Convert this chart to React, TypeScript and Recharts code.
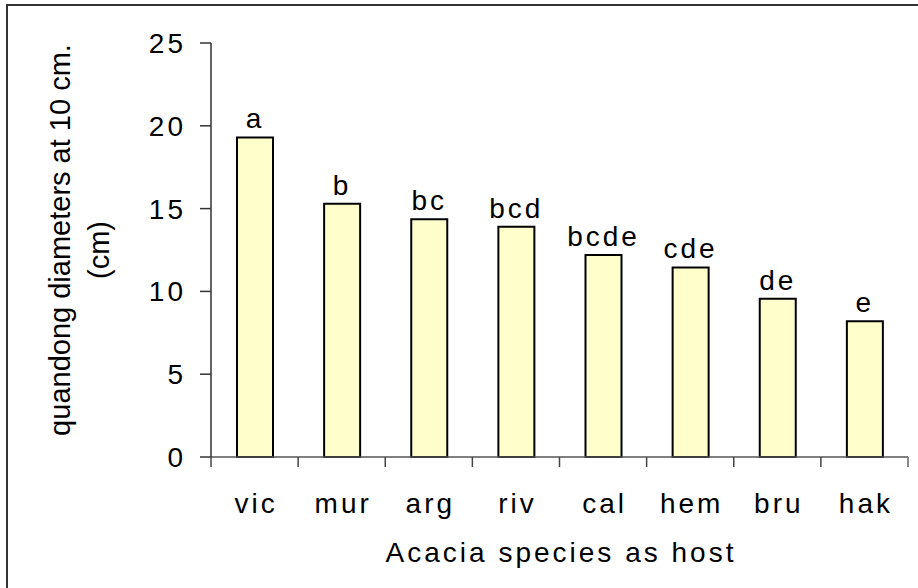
import React from 'react';
import { BarChart, Bar, XAxis, YAxis, LabelList } from 'recharts';

const species = ['vic', 'mur', 'arg', 'riv', 'cal', 'hem', 'bru', 'hak'];
const diameters = [19.3, 15.3, 14.35, 13.9, 12.2, 11.45, 9.55, 8.2];
const letters = ['a', 'b', 'bc', 'bcd', 'bcde', 'cde', 'de', 'e'];
const yTicks = [0, 5, 10, 15, 20, 25];

const data = species.map((name, i) => ({ name, diameter: diameters[i], letter: letters[i] }));

const FONT = '"Liberation Sans", Arial, sans-serif';

// x ticks sit on the category boundaries, not the centres
const SpeciesTick = (props: any) => {
  const { x, y, payload, index } = props;
  const half = payload && payload.offset ? payload.offset : 43.6;
  return (
    <g>
      <line x1={x - half} x2={x - half} y1={y} y2={y + 10} stroke="#444" strokeWidth={1.5} />
      {index === species.length - 1 && (
        <line x1={x + half} x2={x + half} y1={y} y2={y + 10} stroke="#888" strokeWidth={2} />
      )}
      <text x={x + 1.5} y={y + 56} textAnchor="middle" fontSize={28} letterSpacing={3} fill="#000" fontFamily={FONT}>
        {payload.value}
      </text>
    </g>
  );
};

const XTitle = (props: any) => {
  const vb = props.viewBox || {};
  const cx = (vb.x || 211) + (vb.width || 697) / 2;
  return (
    <text x={cx + 1.5} y={562} textAnchor="middle" fontSize={28} letterSpacing={3} fill="#000" fontFamily={FONT}>
      Acacia species as host
    </text>
  );
};

const YTitle = () => (
  <g fontSize={29} fill="#000" fontFamily={FONT} textAnchor="middle">
    <text transform="translate(70, 240) rotate(-90)">quandong diameters at 10 cm.</text>
    <text transform="translate(109, 250) rotate(-90)">(cm)</text>
  </g>
);

export default function App() {
  return (
    <div style={{ position: 'fixed', left: 0, top: 0, width: 918, height: 588, overflow: 'hidden', background: '#fff' }}>
      <div
        style={{
          position: 'absolute',
          left: 6,
          top: 4,
          width: 950,
          height: 620,
          border: '2px solid #333',
        }}
      />
      <div style={{ position: 'absolute', left: 0, top: 0 }}>
        <BarChart
          width={918}
          height={588}
          data={data}
          margin={{ top: 43, right: 10, bottom: 0, left: 0 }}
          barSize={36}
        >
          <XAxis
            dataKey="name"
            height={131}
            interval={0}
            tickSize={0}
            tickMargin={0}
            tickLine={false}
            axisLine={{ stroke: '#555', strokeWidth: 1.5 }}
            tick={<SpeciesTick />}
            label={{ content: <XTitle /> }}
          />
          <XAxis
            xAxisId="top"
            orientation="top"
            dataKey="name"
            height={0}
            tick={false}
            tickLine={false}
            axisLine={{ stroke: '#888', strokeWidth: 2 }}
          />
          <YAxis
            width={211}
            domain={[0, 25]}
            ticks={yTicks}
            interval={0}
            tickSize={11}
            tickMargin={14}
            tickLine={{ stroke: '#333', strokeWidth: 1.5 }}
            axisLine={{ stroke: '#333', strokeWidth: 1.5 }}
            tick={{ fontSize: 28, fill: '#000', fontFamily: FONT, letterSpacing: 3 }}
            label={{ content: <YTitle /> }}
          />
          <YAxis
            yAxisId="right"
            orientation="right"
            width={0}
            domain={[0, 25]}
            tick={false}
            tickLine={false}
            axisLine={{ stroke: '#888', strokeWidth: 2 }}
          />
          <Bar dataKey="diameter" fill="#FFFFCC" stroke="#000" strokeWidth={2} isAnimationActive={false}>
            <LabelList
              dataKey="letter"
              position="top"
              offset={9}
              fontSize={28}
              letterSpacing={3}
              fill="#000"
              fontFamily={FONT}
            />
          </Bar>
        </BarChart>
      </div>
    </div>
  );
}
